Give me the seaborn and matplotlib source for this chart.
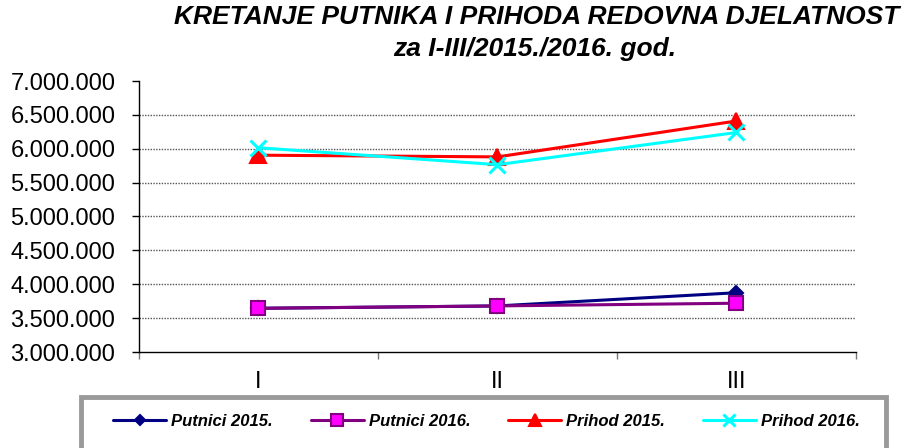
import numpy as np
import pandas as pd
import matplotlib
matplotlib.use("Agg")
import matplotlib.pyplot as plt
import seaborn as sns
from matplotlib.ticker import FuncFormatter, FixedLocator
from matplotlib.patches import Rectangle

months = ["I", "II", "III"]
putnici_2015 = [3645000, 3680000, 3875000]
putnici_2016 = [3645000, 3680000, 3720000]
prihod_2015 = [5905000, 5880000, 6410000]
prihod_2016 = [6015000, 5765000, 6240000]
series_names = ["Putnici 2015.", "Putnici 2016.", "Prihod 2015.", "Prihod 2016."]

sns.set_style("white")
plt.rcParams['font.family'] = ['Liberation Sans', 'DejaVu Sans']
plt.rcParams['text.color'] = 'black'
plt.rcParams['xtick.color'] = 'black'
plt.rcParams['ytick.color'] = 'black'

df = pd.DataFrame({
    'mjesec': months * 4,
    'vrijednost': putnici_2015 + putnici_2016 + prihod_2015 + prihod_2016,
    'serija': np.repeat(series_names, 3),
})

colors = {"Putnici 2015.": "#000080", "Putnici 2016.": "#800080",
          "Prihod 2015.": "#FF0000", "Prihod 2016.": "#00FFFF"}
markers = {"Putnici 2015.": "D", "Putnici 2016.": "s",
           "Prihod 2015.": "^", "Prihod 2016.": "x"}
msizes = {"Putnici 2015.": 7, "Putnici 2016.": 10,
          "Prihod 2015.": 11, "Prihod 2016.": 11}
mfc = {"Putnici 2015.": "#000080", "Putnici 2016.": "#FF00FF",
       "Prihod 2015.": "#FF0000", "Prihod 2016.": "#00FFFF"}

fig = plt.figure(figsize=(9.12, 4.48), dpi=100)
ax = fig.add_axes([139/912, 1-352/448, (856-139)/912, (352-81)/448])

for name in series_names:
    sub = df[df['serija'] == name]
    sns.lineplot(data=sub, x='mjesec', y='vrijednost', ax=ax, color=colors[name],
                 marker=markers[name], markersize=msizes[name], linewidth=2.2,
                 markerfacecolor=mfc[name], markeredgecolor=colors[name],
                 markeredgewidth=2.2 if name == "Prihod 2016." else 1.5,
                 label=name)

ax.set_xlim(-0.5, 2.5)
ax.set_ylim(3000000, 7000000)
ax.set_yticks(np.arange(3000000, 7000001, 500000))
ax.yaxis.set_major_formatter(FuncFormatter(lambda v, p: f"{int(v):,}".replace(",", ".")))
ax.set_xlabel("")
ax.set_ylabel("")
ax.tick_params(axis='y', labelsize=17, length=5, width=1, direction='out', left=True, pad=12)
ax.tick_params(axis='x', labelsize=17, length=0, pad=14)
ax.xaxis.set_minor_locator(FixedLocator([-0.5, 0.5, 1.5, 2.5]))
ax.tick_params(axis='x', which='minor', length=5, width=1, direction='out', bottom=True,
               color='#777777')

ax.grid(axis='y', color='#555555', linestyle=(0, (1, 1)), linewidth=1)
ax.get_ygridlines()[-1].set_visible(False)
ax.get_ygridlines()[0].set_visible(False)
for s in ['top', 'right']:
    ax.spines[s].set_visible(False)
for s in ['left', 'bottom']:
    ax.spines[s].set_color('black')
    ax.spines[s].set_linewidth(1)

if ax.legend_:
    ax.legend_.remove()
handles, labels = ax.get_legend_handles_labels()
leg = fig.legend(handles, labels, loc='center', ncol=4, mode='expand',
                 bbox_to_anchor=(113/912, 1-437/448, (860-113)/912, 32/448),
                 prop={'weight': 'bold', 'style': 'italic', 'size': 12},
                 handlelength=3.2, markerscale=0.8, frameon=False,
                 borderpad=0, columnspacing=1.0, handletextpad=0.3,
                 borderaxespad=0)

# legend box drawn separately so it can run off the bottom edge
frame = Rectangle((81/912, -0.05), (886-81)/912, 0.05 + (448-397)/448,
                  transform=fig.transFigure, fill=False, edgecolor='#9a9a9a',
                  linewidth=3.5, zorder=0)
fig.patches.append(frame)

fig.text(537/912, 1-24/448, "KRETANJE PUTNIKA I PRIHODA REDOVNA DJELATNOST",
         ha='center', va='baseline', fontsize=19, fontweight='bold', fontstyle='italic')
fig.text(535/912, 1-56/448, "za I-III/2015./2016. god.",
         ha='center', va='baseline', fontsize=19, fontweight='bold', fontstyle='italic')

fig.savefig("out.png", dpi=100)
